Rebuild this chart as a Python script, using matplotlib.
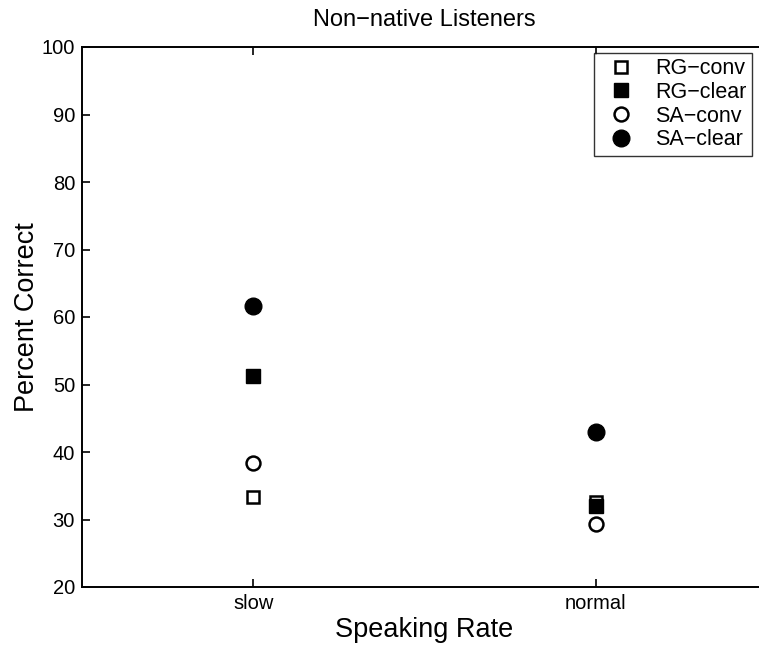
import matplotlib
matplotlib.use("Agg")
import matplotlib.pyplot as plt

plt.rcParams["font.family"] = ["Liberation Sans", "DejaVu Sans"]

# speaking-rate conditions and percent-correct per talker/style
rates = ["slow", "normal"]
rg_conv = [33.3, 32.6]
rg_clear = [51.2, 32.0]
sa_conv = [38.4, 29.4]
sa_clear = [61.7, 43.0]

fig = plt.figure(figsize=(7.59, 6.48), dpi=100)
# the right-hand spine falls just past the edge of the page
ax = fig.add_axes([82 / 759, 1 - 587 / 648, 685 / 759, 540 / 648])

xpos = list(range(1, len(rates) + 1))
ax.plot(xpos, rg_conv, "s", ms=8, mfc="none", mec="black", mew=1.8,
        ls="none", label="RG\u2212conv")
ax.plot(xpos, rg_clear, "s", ms=10, mfc="black", mec="black",
        ls="none", label="RG\u2212clear")
ax.plot(xpos, sa_conv, "o", ms=10, mfc="none", mec="black", mew=1.8,
        ls="none", label="SA\u2212conv")
ax.plot(xpos, sa_clear, "o", ms=12, mfc="black", mec="black",
        ls="none", label="SA\u2212clear")

ax.set_xlim(0.5, 2.5)
ax.set_ylim(20, 100)
ax.set_xticks(xpos)
ax.set_xticklabels(rates)
ax.set_yticks(range(20, 101, 10))
ax.tick_params(direction="in", top=True, right=True, length=6, width=1.2,
               labelsize=14.5, pad=5)
for s in ax.spines.values():
    s.set_linewidth(1.4)

ax.set_xlabel("Speaking Rate", fontsize=19.5, labelpad=3)
ax.set_ylabel("Percent Correct", fontsize=19.5, labelpad=1)
ax.set_title("Non\u2212native Listeners", fontsize=17, pad=15)

leg = ax.legend(loc="upper right", bbox_to_anchor=((752 - 82) / 685, 1 - 6 / 540),
                fontsize=15.5, frameon=True, fancybox=False, edgecolor="black",
                handletextpad=0.6, borderpad=0.25, labelspacing=0.12,
                handlelength=2.0, borderaxespad=0)
leg.get_frame().set_linewidth(1.0)

fig.savefig("out.png", dpi=100, facecolor="white")
